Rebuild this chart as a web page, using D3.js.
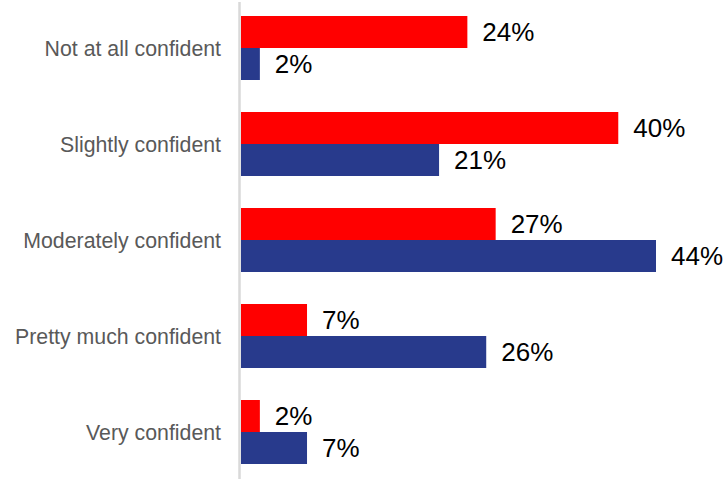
<!DOCTYPE html>
<html>
<head>
<meta charset="utf-8">
<script src="https://cdn.jsdelivr.net/npm/d3@7"></script>
<style>
  html, body { margin: 0; padding: 0; background: #fff; }
  svg { display: block; }
</style>
</head>
<body>
<svg id="chart" width="726" height="479"></svg>
<script>
// Confidence levels, two survey groups
const categories = ["Not at all confident", "Slightly confident", "Moderately confident", "Pretty much confident", "Very confident"];
const seriesNames = ["Group A", "Group B"];
const seriesA = [24, 40, 27, 7, 2];
const seriesB = [2, 21, 44, 26, 7];
const seriesColors = ["#ff0000", "#283a8c"];

const rows = categories.map((c, i) => ({ category: c, values: [seriesA[i], seriesB[i]] }));

const svg = d3.select("#chart");
const width = 726, height = 479;
const x0 = 241;

const x = d3.scaleLinear().domain([0, 44]).range([x0, 656]);
const y = d3.scaleBand().domain(categories).range([0, 480]).paddingInner(1 / 3).paddingOuter(1 / 6);
const ySub = d3.scaleBand().domain([0, 1]).range([0, y.bandwidth()]);

// bars
const groups = svg.append("g").selectAll("g")
  .data(rows).join("g")
  .attr("transform", d => `translate(0,${y(d.category)})`);

groups.selectAll("rect")
  .data(d => d.values.map((v, k) => ({ v, k })))
  .join("rect")
  .attr("x", x(0))
  .attr("y", d => ySub(d.k))
  .attr("width", d => x(d.v) - x(0))
  .attr("height", ySub.bandwidth())
  .attr("fill", d => seriesColors[d.k]);

// value labels
groups.selectAll("text")
  .data(d => d.values.map((v, k) => ({ v, k })))
  .join("text")
  .attr("x", d => x(d.v) + 15)
  .attr("y", d => ySub(d.k) + ySub.bandwidth() / 2)
  .attr("dy", "0.36em")
  .attr("font-family", "Liberation Sans, Arial, sans-serif")
  .attr("font-size", 26)
  .attr("fill", "#000")
  .text(d => d.v + "%");

// category axis
const yAxis = d3.axisLeft(y).tickSize(0).tickPadding(20);
const axisG = svg.append("g")
  .attr("transform", `translate(${x0},0)`)
  .call(yAxis);
axisG.select(".domain").remove();
axisG.selectAll("text")
  .attr("font-family", "Liberation Sans, Arial, sans-serif")
  .attr("font-size", 21.3)
  .attr("fill", "#595959")
  .attr("dy", "0.36em");

// vertical baseline
svg.append("line")
  .attr("x1", x0 - 1.5).attr("x2", x0 - 1.5)
  .attr("y1", 2).attr("y2", height)
  .attr("stroke", "#d9d9d9")
  .attr("stroke-width", 2.5);
</script>
</body>
</html>
